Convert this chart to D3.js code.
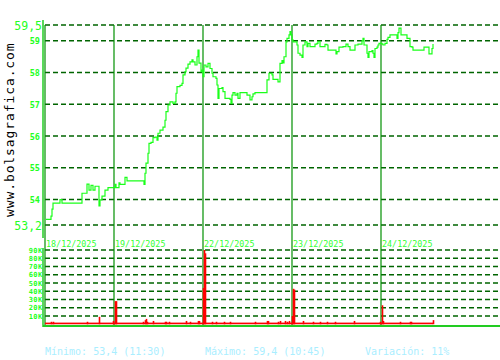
<!DOCTYPE html>
<html><head><meta charset="utf-8">
<script src="https://cdn.jsdelivr.net/npm/d3@7"></script>
<style>
html,body{margin:0;padding:0;background:#fff;}
svg{display:block;}
text{font-family:"DejaVu Sans Mono","Liberation Mono",monospace;}
</style></head>
<body><svg id="c" width="500" height="360"></svg>
<script>
// time index (trading-time units) of each day start and its label
const dayStarts = [0, 69, 158, 247, 336];
const dayLabels = ["18/12/2025", "19/12/2025", "22/12/2025", "23/12/2025", "24/12/2025"];

// price series: time index and price
const priceT = [1,6,7,8,15,17,36,37,42,44,46,48,50,54,55,57,60,63,70,71,74,75,80,82,99,100,101,103,104,106,108,110,112,113,115,118,120,121,123,125,128,130,131,132,135,137,138,140,141,143,145,147,148,150,152,153,154,156,157,158,159,161,163,165,167,168,171,172,173,174,177,178,180,185,186,187,188,190,192,193,195,200,202,205,207,208,210,221,222,224,227,228,232,233,235,237,238,239,241,242,244,245,246,247,248,252,253,255,257,258,260,262,263,265,270,272,273,275,279,280,282,283,290,291,292,294,298,301,303,305,308,310,313,317,318,319,322,323,324,327,328,329,330,332,333,334,337,338,340,342,343,345,350,352,353,354,356,361,362,364,365,367,368,378,379,383,384,386,387,388];
const priceV = [53.38,53.48,53.7,53.89,54.0,53.89,53.89,54.2,54.49,54.3,54.45,54.3,54.42,53.8,53.99,54.11,54.3,54.38,54.48,54.38,54.53,54.48,54.7,54.59,54.48,54.83,55.15,55.46,55.77,55.8,55.95,55.97,55.87,56.09,56.19,56.28,56.5,56.77,56.98,57.08,57.03,57.08,57.35,57.56,57.6,57.66,57.93,58.03,58.14,58.27,58.34,58.4,58.34,58.24,58.5,58.71,58.3,58.03,58.08,57.87,58.24,58.18,58.29,58.13,57.98,57.87,57.82,57.61,57.19,57.5,57.53,57.4,57.19,57.16,57.03,57.29,57.37,57.29,57.35,57.19,57.37,57.37,57.29,57.14,57.24,57.33,57.37,57.37,57.77,57.98,57.93,57.79,57.79,57.71,58.29,58.38,58.31,58.5,58.97,59.08,59.19,59.29,59.19,59.03,58.97,58.87,58.61,58.55,58.48,58.87,58.97,58.82,58.92,58.82,58.9,58.92,58.98,58.82,58.82,58.89,58.87,58.71,58.71,58.59,58.66,58.8,58.82,58.9,58.82,58.71,58.71,58.87,58.9,59.0,59.08,58.87,58.61,58.48,58.66,58.69,58.61,58.48,58.76,58.8,58.87,58.92,58.9,58.87,58.92,59.05,59.11,59.19,59.19,59.08,59.26,59.4,59.19,59.19,59.08,59.08,58.82,58.8,58.71,58.71,58.8,58.8,58.59,58.59,58.76,58.9];

// volume (thousands): time index and volume
const volT = [6,8,42,54,68,70,71,98,100,101,102,108,120,121,124,141,145,153,154,158,159,160,167,171,179,185,210,222,223,233,235,240,242,244,247,248,249,258,268,275,282,290,309,335,337,338,355,365,366,388];
const volV = [3,3,3,9,4,28,28,3,5,6.5,3,4,3,3,3,4,3,4,4,44,90,86,3,3,3,3,3,4,4,3,4,4,3,4,10,43,42,4,3,3,3,3,4,3,23,4,3,3,3,5];
const baseVolume = 2;        // continuous low volume band
const volSpan = [0, 388];

const priceTicks = [59.5, 59, 58, 57, 56, 55, 54, 53.2];
const bigPriceTicks = [59.5, 53.2];
const volTicks = [10, 20, 30, 40, 50, 60, 70, 80, 90];
const volTickLabels = ["10K","20K","30K","40K","50K","60K","70K","80K","90K"];
const footer = ["Mínimo: 53,4 (11:30)", "Máximo: 59,4 (10:45)", "Variación: 11%"];
const watermark = "www.bolsagrafica.com";

const svg = d3.select("#c");
const x = d3.scaleLinear().domain([0, 455]).range([45, 500]);
const yP = d3.scaleLinear().domain([53.2, 59.5]).range([225, 25]);
const yV = d3.scaleLinear().domain([0, 90]).range([324.25, 250]);

const gridCol = "#006400", brightAxis = "#22cc22", sepCol = "#009000";
const fmt = v => String(v).replace(".", ",");

// watermark
svg.append("text").attr("transform", "translate(14,217) rotate(-90)")
  .attr("font-size", 13).attr("letter-spacing", 0.9).attr("fill", "#000").text(watermark);

// price grid
svg.append("g").selectAll("line").data(priceTicks).join("line")
  .attr("x1", 45).attr("x2", 500).attr("y1", d => yP(d)).attr("y2", d => yP(d))
  .attr("stroke", gridCol).attr("stroke-width", 1.5).attr("stroke-dasharray", "5,3");
svg.append("g").selectAll("text").data(priceTicks).join("text")
  .attr("text-anchor", "end")
  .attr("x", d => bigPriceTicks.includes(d) ? 42 : 40)
  .attr("y", d => yP(d) + (bigPriceTicks.includes(d) ? 5 : 3.5))
  .attr("font-size", d => bigPriceTicks.includes(d) ? 11.5 : 8.5)
  .attr("font-weight", d => bigPriceTicks.includes(d) ? "normal" : "bold")
  .attr("fill", "#22ff22").text(fmt);

// volume grid
svg.append("g").selectAll("line").data(volTicks).join("line")
  .attr("x1", 45).attr("x2", 500).attr("y1", d => yV(d)).attr("y2", d => yV(d))
  .attr("stroke", gridCol).attr("stroke-width", 1.5).attr("stroke-dasharray", "5,3");
svg.append("g").selectAll("text").data(volTicks).join("text")
  .attr("text-anchor", "end").attr("x", 42.5).attr("y", d => yV(d) + 2.6)
  .attr("font-size", 7).attr("letter-spacing", 0.4).attr("font-weight", "bold").attr("fill", "#22ff22")
  .text((d, i) => volTickLabels[i]);

// axes lines
svg.append("line").attr("x1", 43).attr("x2", 43).attr("y1", 20).attr("y2", 238)
  .attr("stroke", brightAxis).attr("stroke-width", 1.5);
svg.append("line").attr("x1", 43).attr("x2", 43).attr("y1", 248).attr("y2", 327)
  .attr("stroke", brightAxis).attr("stroke-width", 1.5);

// day separators & labels
svg.append("g").selectAll("line").data(dayStarts).join("line")
  .attr("x1", d => x(d)).attr("x2", d => x(d)).attr("y1", 25).attr("y2", 326)
  .attr("stroke", sepCol).attr("stroke-width", 1.2);
svg.append("g").selectAll("text").data(dayStarts).join("text")
  .attr("x", d => x(d) + 1).attr("y", 246.5).attr("font-size", 8.4)
  .attr("fill", "#33ff33").text((d, i) => dayLabels[i]);

// volume base band & bars
svg.append("rect").attr("x", x(volSpan[0])).attr("width", x(volSpan[1]) - x(volSpan[0]))
  .attr("y", yV(baseVolume)).attr("height", yV(0) - yV(baseVolume)).attr("fill", "#ff0000");
svg.append("g").selectAll("rect").data(volT).join("rect")
  .attr("x", d => x(d) - 0.3).attr("width", 1.6)
  .attr("y", (d, i) => yV(volV[i])).attr("height", (d, i) => yV(0) - yV(volV[i]))
  .attr("fill", "#ff0000");
svg.append("line").attr("x1", 43).attr("x2", 500).attr("y1", 326).attr("y2", 326)
  .attr("stroke", brightAxis).attr("stroke-width", 2);

// price line
const pts = priceT.map((t, i) => [t, priceV[i]]);
svg.append("path").datum(pts)
  .attr("d", d3.line().x(d => x(d[0])).y(d => yP(d[1])).curve(d3.curveStepAfter))
  .attr("fill", "none").attr("stroke", "#1aff1a").attr("stroke-width", 1.2);

// footer
const fx = [45, 205, 365];
svg.append("g").selectAll("text").data(footer).join("text")
  .attr("x", (d, i) => fx[i]).attr("y", 355).attr("font-size", 10)
  .attr("fill", "#aaeeff").text(d => d);
</script></body></html>
